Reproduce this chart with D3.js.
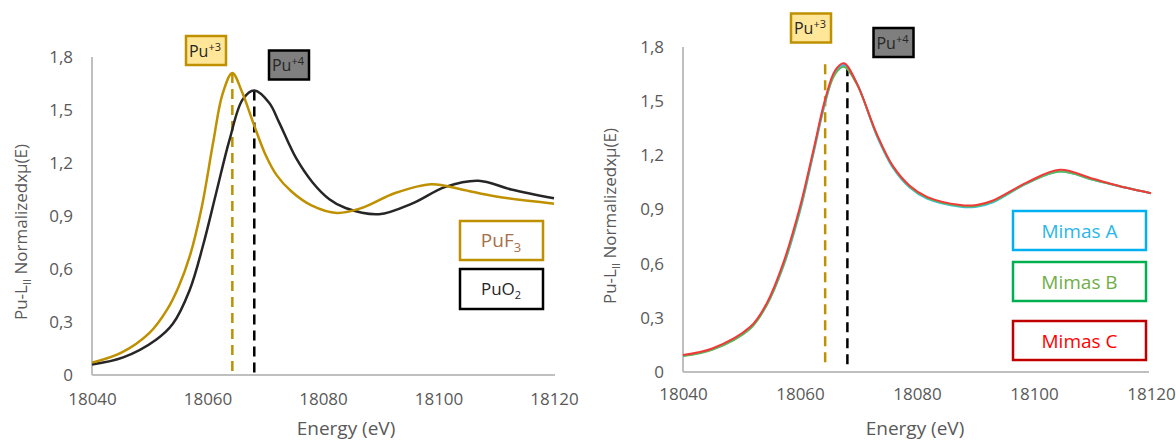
<!DOCTYPE html>
<html>
<head>
<meta charset="utf-8">
<script src="https://cdn.jsdelivr.net/npm/d3@7"></script>
<style>
  html, body { margin: 0; padding: 0; background: #fff; }
  svg { display: block; font-family: "Open Sans", "Liberation Sans", sans-serif; }
</style>
</head>
<body>
<svg id="chart" width="1176" height="441"></svg>
<script>
// ---------- data ----------
const xTicks = [18040, 18060, 18080, 18100, 18120];
const yTicks = [0, 0.3, 0.6, 0.9, 1.2, 1.5, 1.8];
const yTickLabels = ["0", "0,3", "0,6", "0,9", "1,2", "1,5", "1,8"];

const energyPuF3 = [18040, 18045, 18050, 18053, 18055, 18057, 18059, 18061, 18062.6, 18064.3, 18066, 18068, 18070, 18072, 18074.5, 18078, 18082.4, 18086.7, 18092.5, 18098.8, 18104, 18110, 18120];
const valuePuF3  = [0.07, 0.125, 0.24, 0.37, 0.50, 0.68, 0.95, 1.32, 1.59, 1.71, 1.60, 1.42, 1.25, 1.13, 1.04, 0.96, 0.917, 0.945, 1.03, 1.08, 1.05, 1.01, 0.97];

const energyPuO2 = [18040, 18045.4, 18051.1, 18054, 18056.9, 18059.2, 18061.5, 18063.8, 18066.1, 18068.1, 18070.7, 18072.4, 18075.3, 18078.2, 18081.1, 18083.9, 18089.7, 18095.4, 18101.2, 18106.9, 18112.6, 18120];
const valuePuO2  = [0.06, 0.10, 0.20, 0.29, 0.48, 0.73, 1.03, 1.33, 1.56, 1.61, 1.54, 1.43, 1.23, 1.09, 0.995, 0.945, 0.91, 0.97, 1.065, 1.10, 1.05, 1.00];

const energyMimas = [18040, 18045, 18051.5, 18054.3, 18057.1, 18060, 18062.3, 18064.3, 18066, 18067.5, 18069.7, 18073.1, 18075.9, 18078.8, 18081.7, 18087.4, 18090.2, 18093, 18098.8, 18104.4, 18110.1, 18115.8, 18120];
const valueMimasA = [0.090, 0.125, 0.245, 0.37, 0.58, 0.89, 1.21, 1.49, 1.66, 1.70, 1.60, 1.31, 1.13, 1.02, 0.96, 0.915, 0.915, 0.94, 1.045, 1.11, 1.065, 1.02, 0.99];
const valueMimasB = [0.088, 0.123, 0.24, 0.37, 0.585, 0.90, 1.22, 1.50, 1.65, 1.69, 1.595, 1.315, 1.135, 1.025, 0.965, 0.92, 0.92, 0.945, 1.045, 1.11, 1.065, 1.02, 0.99];
const valueMimasC = [0.094, 0.13, 0.25, 0.38, 0.60, 0.915, 1.23, 1.51, 1.67, 1.71, 1.60, 1.32, 1.14, 1.03, 0.97, 0.925, 0.925, 0.95, 1.05, 1.12, 1.07, 1.02, 0.99];

const edgePu3 = 18064.3;   // Pu+3 white-line position
const edgePu4 = 18068.1;   // Pu+4 white-line position
const peakPu3Left = 1.71, peakPu4Left = 1.61;
const peakRight = 1.71;

// ---------- drawing ----------
const svg = d3.select("#chart");
const gold = "#BF9000";
const axisGrey = "#BFBFBF";
const textGrey = "#595959";

function panel(cfg) {
  const x = d3.scaleLinear().domain([18040, 18120]).range([cfg.x0, cfg.x1]);
  const y = d3.scaleLinear().domain([0, 1.8]).range([cfg.y0, cfg.y1]);
  const g = svg.append("g");

  const xa = g.append("g").attr("transform", `translate(0,${cfg.y0})`)
    .call(d3.axisBottom(x).tickValues(xTicks).tickSize(0).tickPadding(cfg.xPad).tickFormat(d3.format("d")));
  xa.select(".domain").attr("stroke", axisGrey).attr("stroke-width", 2)
    .attr("d", `M${cfg.x0},0H${cfg.xAxisEnd}`);
  xa.selectAll("text").attr("fill", textGrey).style("font-size", "17px")
    .style("font-family", "'Open Sans', sans-serif");

  const ya = g.append("g").attr("transform", `translate(${cfg.x0},0)`)
    .call(d3.axisLeft(y).tickValues(yTicks).tickSize(0).tickPadding(cfg.yPad)
      .tickFormat((d, i) => yTickLabels[i]));
  ya.select(".domain").attr("stroke", axisGrey).attr("stroke-width", 2)
    .attr("d", `M0,${cfg.y0}V${cfg.y1}`);
  ya.selectAll("text").attr("fill", textGrey).style("font-size", "17px")
    .style("font-family", "'Open Sans', sans-serif");

  g.append("text").attr("x", cfg.xTitleX).attr("y", cfg.xTitleY).attr("text-anchor", "middle")
    .attr("fill", textGrey).style("font-size", "19px").text("Energy (eV)");
  const yt = g.append("text").attr("transform", `translate(${cfg.yTitleX},${cfg.yTitleY}) rotate(-90)`)
    .attr("text-anchor", "middle").attr("fill", textGrey).style("font-size", "17px");
  yt.append("tspan").text("Pu-L");
  yt.append("tspan").attr("dy", 4).style("font-size", "11px").text("II");
  yt.append("tspan").attr("dy", -4).text(" Normalizedxμ(E)");

  return { x, y, g };
}

function box(g, x, y, w, h, fill, stroke, sw) {
  g.append("rect").attr("x", x).attr("y", y).attr("width", w).attr("height", h)
    .attr("fill", fill).attr("stroke", stroke).attr("stroke-width", sw);
}

function puLabel(g, cx, cy, ion, fill, stroke) {
  box(g, cx - 20, cy - 14.5, 40, 29, fill, stroke, 2.5);
  const t = g.append("text").attr("x", cx - 1).attr("y", cy + 6).attr("text-anchor", "middle")
    .attr("fill", "#262626").style("font-size", "16px");
  t.append("tspan").text("Pu");
  t.append("tspan").attr("dy", -6).style("font-size", "11px").text(ion);
}

const zip = (a, b) => a.map((v, i) => [v, b[i]]);
const smooth = d3.curveCatmullRom.alpha(0.5);

// ---------- left panel ----------
const L = panel({ x0: 92, x1: 554, y0: 375, y1: 57, xAxisEnd: 555, xPad: 18, yPad: 19,
  xTitleX: 346, xTitleY: 435, yTitleX: 27, yTitleY: 232 });
const lineL = d3.line().x(d => L.x(d[0])).y(d => L.y(d[1])).curve(smooth);

L.g.append("line").attr("x1", L.x(edgePu3)).attr("x2", L.x(edgePu3))
  .attr("y1", L.y(peakPu3Left)).attr("y2", L.y(0))
  .attr("stroke", gold).attr("stroke-width", 2.5).attr("stroke-dasharray", "10,6");
L.g.append("line").attr("x1", L.x(edgePu4)).attr("x2", L.x(edgePu4))
  .attr("y1", L.y(peakPu4Left)).attr("y2", L.y(0))
  .attr("stroke", "#000").attr("stroke-width", 2.5).attr("stroke-dasharray", "10,6");

L.g.append("path").datum(zip(energyPuO2, valuePuO2)).attr("d", lineL)
  .attr("fill", "none").attr("stroke", "#262626").attr("stroke-width", 2.5);
L.g.append("path").datum(zip(energyPuF3, valuePuF3)).attr("d", lineL)
  .attr("fill", "none").attr("stroke", gold).attr("stroke-width", 2.5);

puLabel(L.g, 206, 50.5, "+3", "#FFE699", gold);
puLabel(L.g, 289, 65, "+4", "#7F7F7F", "#000");

box(L.g, 460, 221, 83, 39, "#fff", gold, 2.5);
const tF = L.g.append("text").attr("x", 501).attr("y", 247).attr("text-anchor", "middle")
  .attr("fill", "#A86F4C").style("font-size", "19px");
tF.append("tspan").text("PuF");
tF.append("tspan").attr("dy", 5).style("font-size", "13px").text("3");
box(L.g, 460, 269, 83, 40, "#fff", "#000", 2.5);
const tO = L.g.append("text").attr("x", 501).attr("y", 295).attr("text-anchor", "middle")
  .attr("fill", "#262626").style("font-size", "17px");
tO.append("tspan").text("PuO");
tO.append("tspan").attr("dy", 4).style("font-size", "11px").text("2");

// ---------- right panel ----------
const R = panel({ x0: 683, x1: 1151, y0: 372, y1: 47, xAxisEnd: 1149, xPad: 16, yPad: 19,
  xTitleX: 915, xTitleY: 435, yTitleX: 616, yTitleY: 216 });
const lineR = d3.line().x(d => R.x(d[0])).y(d => R.y(d[1])).curve(smooth);

R.g.append("line").attr("x1", R.x(edgePu3)).attr("x2", R.x(edgePu3))
  .attr("y1", R.y(peakRight) + 1).attr("y2", R.y(0) - 5)
  .attr("stroke", gold).attr("stroke-width", 2.5).attr("stroke-dasharray", "10,6");
R.g.append("line").attr("x1", R.x(edgePu4)).attr("x2", R.x(edgePu4))
  .attr("y1", R.y(peakRight) + 3).attr("y2", R.y(0) - 5)
  .attr("stroke", "#000").attr("stroke-width", 2.5).attr("stroke-dasharray", "10,6");

const mimas = [
  { vals: valueMimasA, color: "#33C3F0" },
  { vals: valueMimasB, color: "#5CB85C" },
  { vals: valueMimasC, color: "#F03A3A" }
];
mimas.forEach(m => {
  R.g.append("path").datum(zip(energyMimas, m.vals)).attr("d", lineR)
    .attr("fill", "none").attr("stroke", m.color).attr("stroke-width", 2);
});

puLabel(R.g, 811, 28, "+3", "#FFE699", gold);
puLabel(R.g, 893.5, 42.5, "+4", "#7F7F7F", "#000");

const legendR = [
  { label: "Mimas A", y: 211, stroke: "#00B0F0", text: "#29B6E8" },
  { label: "Mimas B", y: 262, stroke: "#00B050", text: "#70AD47" },
  { label: "Mimas C", y: 321, stroke: "#C00000", text: "#FF0000" }
];
legendR.forEach(l => {
  box(R.g, 1013, l.y, 133, 39, "#fff", l.stroke, 2.5);
  R.g.append("text").attr("x", 1079.5).attr("y", l.y + 27).attr("text-anchor", "middle")
    .attr("fill", l.text).style("font-size", "19px").text(l.label);
});
</script>
</body>
</html>
